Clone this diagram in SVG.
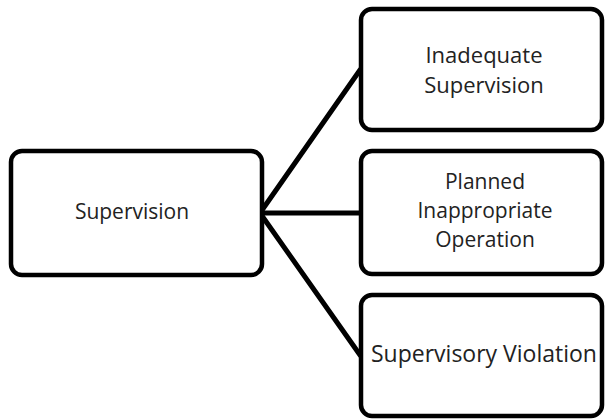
<svg xmlns="http://www.w3.org/2000/svg" width="605" height="419" viewBox="0 0 605 419">
<style>
.box{fill:#fff;stroke:#000;stroke-width:4.5}
.lbl{font-family:"Open Sans","Liberation Sans",sans-serif;fill:#222;text-anchor:middle}
.conn{stroke:#000;stroke-width:5;fill:none;stroke-linecap:round}
</style>
<rect width="605" height="419" fill="#fff"/>
<g id="connectors">
<line class="conn" x1="260" y1="213" x2="360" y2="70"/>
<line class="conn" x1="260" y1="213" x2="360" y2="213"/>
<line class="conn" x1="260" y1="213" x2="360" y2="355"/>
</g>
<g id="node-supervision">
<rect class="box" x="11" y="151" width="251" height="124" rx="11"/>
<text class="lbl" x="132" y="219" font-size="21">Supervision</text>
</g>
<g id="node-inadequate">
<rect class="box" x="361" y="9" width="241" height="121" rx="11"/>
<text class="lbl" x="484" y="63" font-size="22">Inadequate</text>
<text class="lbl" x="484" y="93" font-size="22">Supervision</text>
</g>
<g id="node-planned">
<rect class="box" x="361" y="151" width="241" height="123" rx="11"/>
<text class="lbl" x="485" y="189" font-size="21">Planned</text>
<text class="lbl" x="485" y="218" font-size="21">Inappropriate</text>
<text class="lbl" x="485" y="247" font-size="21">Operation</text>
</g>
<g id="node-violation">
<rect class="box" x="361" y="295" width="241" height="121" rx="11"/>
<text class="lbl" x="484" y="362" font-size="23">Supervisory Violation</text>
</g>
</svg>
